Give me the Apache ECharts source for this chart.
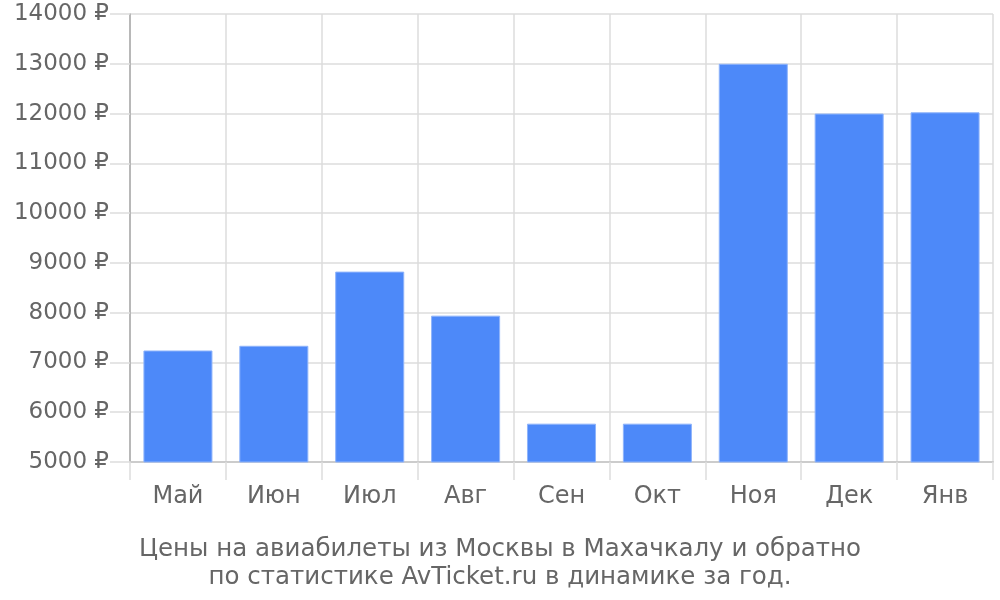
<!DOCTYPE html>
<html><head><meta charset="utf-8">
<script src="https://cdn.jsdelivr.net/npm/echarts@6/dist/echarts.min.js"></script>
<style>html,body{margin:0;padding:0;background:#fff}#c{width:1000px;height:600px}</style>
</head><body><div id="c"></div>
<script>
const categories = ['Май','Июн','Июл','Авг','Сен','Окт','Ноя','Дек','Янв'];
const prices = [7240, 7335, 8825, 7940, 5770, 5770, 13000, 12000, 12025];
const titleLines = ['Цены на авиабилеты из Москвы в Махачкалу и обратно','по статистике AvTicket.ru в динамике за год.'];

const chart = echarts.init(document.getElementById('c'));
const font = 'DejaVu Sans';
chart.setOption({
  animation: false,
  title: {
    text: titleLines.join('\n'),
    left: 'center', top: 531,
    textStyle: {fontFamily: font, fontSize: 24.5, fontWeight: 'normal', color: '#666', lineHeight: 28, align: 'center'}
  },
  grid: {left: 130, right: 7, top: 14, bottom: 138},
  xAxis: {
    type: 'category', data: categories, boundaryGap: true,
    axisLine: {show: true, lineStyle: {color: '#ccc', width: 2}},
    axisTick: {show: true, length: 18, lineStyle: {color: '#ddd', width: 1.5}},
    splitLine: {show: true, lineStyle: {color: '#ddd', width: 1.5}},
    axisLabel: {fontFamily: font, fontSize: 24, color: '#666', margin: 23}
  },
  yAxis: {
    type: 'value', min: 5000, max: 14000, interval: 1000,
    axisLine: {show: true, lineStyle: {color: '#aaa', width: 1.5}},
    axisTick: {show: true, length: 20, lineStyle: {color: '#ddd', width: 1.5}},
    splitLine: {show: true, lineStyle: {color: '#ddd', width: 1.5}},
    axisLabel: {fontFamily: font, fontSize: 23, color: '#666', margin: 21, formatter: v => v + ' ₽'}
  },
  series: [{
    type: 'bar', data: prices, barWidth: '72%',
    itemStyle: {color: '#4d89f9', borderColor: '#8fb4fb', borderWidth: 1}
  }]
});
</script></body></html>
